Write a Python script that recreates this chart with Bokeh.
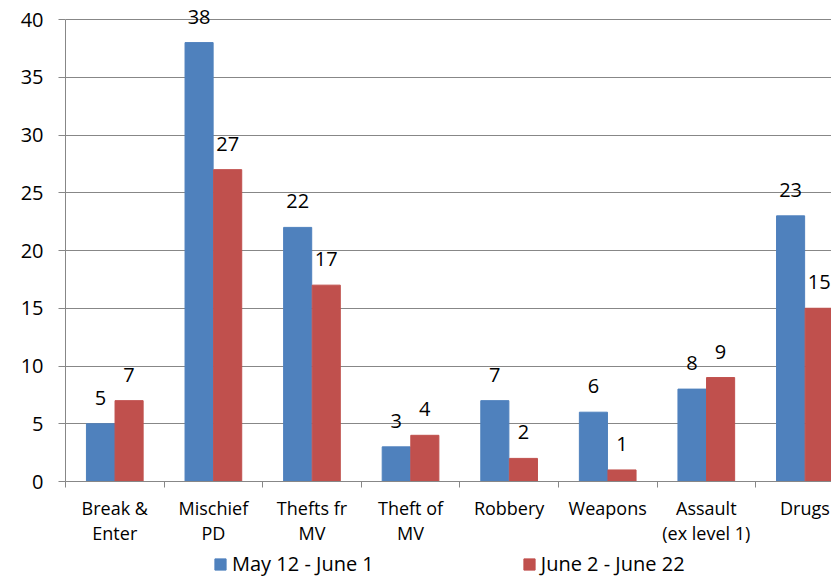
from bokeh.plotting import figure
from bokeh.layouts import column
from bokeh.models import ColumnDataSource, Range1d, FixedTicker, Legend, LegendItem, LabelSet
from bokeh.core.properties import value
from bokeh.transform import dodge
from bokeh.embed import file_html
from bokeh.resources import INLINE

categories = ["Break &\nEnter", "Mischief\nPD", "Thefts fr\nMV", "Theft of\nMV",
              "Robbery", "Weapons", "Assault\n(ex level 1)", "Drugs"]
series_names = ["May 12 - June 1", "June 2 - June 22"]
may_values = [5, 38, 22, 3, 7, 6, 8, 23]
june_values = [7, 27, 17, 4, 2, 1, 9, 15]
y_ticks = [0, 5, 10, 15, 20, 25, 30, 35, 40]
y_max = 40

FONT = "Open Sans"
BLUE = "#4F81BD"
RED = "#C0504D"
GRID = "#878787"

centers = [i + 0.5 for i in range(len(categories))]
src = ColumnDataSource(dict(
    x=centers,
    may=may_values,
    june=june_values,
    may_lbl=[str(v) for v in may_values],
    june_lbl=[str(v) for v in june_values],
))

# frame spans y 8..481 px; 40 sits at y=19 so headroom lets the "38" label show
p = figure(width=831, height=550, output_backend="svg", toolbar_location=None,
           x_range=Range1d(0, 7.77), y_range=Range1d(0, y_max + 11 / 11.55),
           min_border_left=65, min_border_right=0, min_border_top=8, min_border_bottom=69)
p.outline_line_color = None
p.background_fill_color = "white"

bw = 0.285
r1 = p.vbar(x=dodge("x", -0.145, range=p.x_range), top="may", width=bw, source=src,
            fill_color=BLUE, line_color=BLUE)
r2 = p.vbar(x=dodge("x", 0.145, range=p.x_range), top="june", width=bw, source=src,
            fill_color=RED, line_color=RED)

for col, lbl, off in (("may", "may_lbl", -0.145), ("june", "june_lbl", 0.145)):
    labels = LabelSet(x=dodge("x", off, range=p.x_range), y=col, text=lbl, source=src,
                      text_font=value(FONT), text_font_size="20px", text_color="black",
                      text_align="center", text_baseline="alphabetic", y_offset=19)
    p.add_layout(labels)

# x axis
xa = p.xaxis[0]
xa.ticker = FixedTicker(ticks=centers, minor_ticks=list(range(len(categories) + 1)))
xa.major_label_overrides = {c: lab for c, lab in zip(centers, categories)}
xa.major_tick_line_color = None
xa.major_tick_out = 0
xa.major_tick_in = 0
xa.minor_tick_line_color = GRID
xa.minor_tick_out = 6
xa.minor_tick_in = 0
xa.minor_tick_line_width = 1
xa.axis_line_color = GRID
xa.major_label_text_font = FONT
xa.major_label_text_font_size = "18px"
xa.major_label_text_color = "black"
xa.major_label_text_line_height = 1.06
xa.major_label_standoff = 8

# y axis
ya = p.yaxis[0]
ya.ticker = FixedTicker(ticks=y_ticks)
ya.bounds = (0, y_max)
ya.minor_tick_line_color = None
ya.major_tick_line_color = GRID
ya.major_tick_out = 7
ya.major_tick_in = 0
ya.axis_line_color = GRID
ya.major_label_text_font = FONT
ya.major_label_text_font_size = "20px"
ya.major_label_text_color = "black"
ya.major_label_standoff = 15

p.xgrid.grid_line_color = None
p.ygrid.grid_line_color = GRID
p.ygrid.ticker = FixedTicker(ticks=y_ticks)

# legend strip below the chart (its bars sit outside the strip's view; only the legend shows)
lf = figure(width=831, height=27, output_backend="svg", toolbar_location=None,
            x_range=Range1d(-20, -19), y_range=Range1d(0, 1),
            x_axis_location=None, y_axis_location=None,
            min_border_left=0, min_border_right=0, min_border_top=0, min_border_bottom=0)
lf.outline_line_color = None
lf.xgrid.visible = False
lf.ygrid.visible = False
s1 = lf.vbar(x="x", top="may", width=bw, source=src, fill_color=BLUE, line_color=BLUE)
s2 = lf.vbar(x="x", top="june", width=bw, source=src, fill_color=RED, line_color=RED)
legend = Legend(items=[LegendItem(label=series_names[0], renderers=[s1]),
                       LegendItem(label=series_names[1], renderers=[s2])],
                orientation="horizontal", location=(148, 0),
                glyph_width=14, glyph_height=14, label_height=20,
                label_text_font=FONT, label_text_font_size="20px",
                label_text_color="black",
                label_standoff=5, spacing=148, padding=0, margin=0,
                border_line_color=None, background_fill_alpha=0)
lf.add_layout(legend, "center")

layout = column(p, lf, spacing=0)
open("out.html", "w").write(file_html(layout, INLINE))
